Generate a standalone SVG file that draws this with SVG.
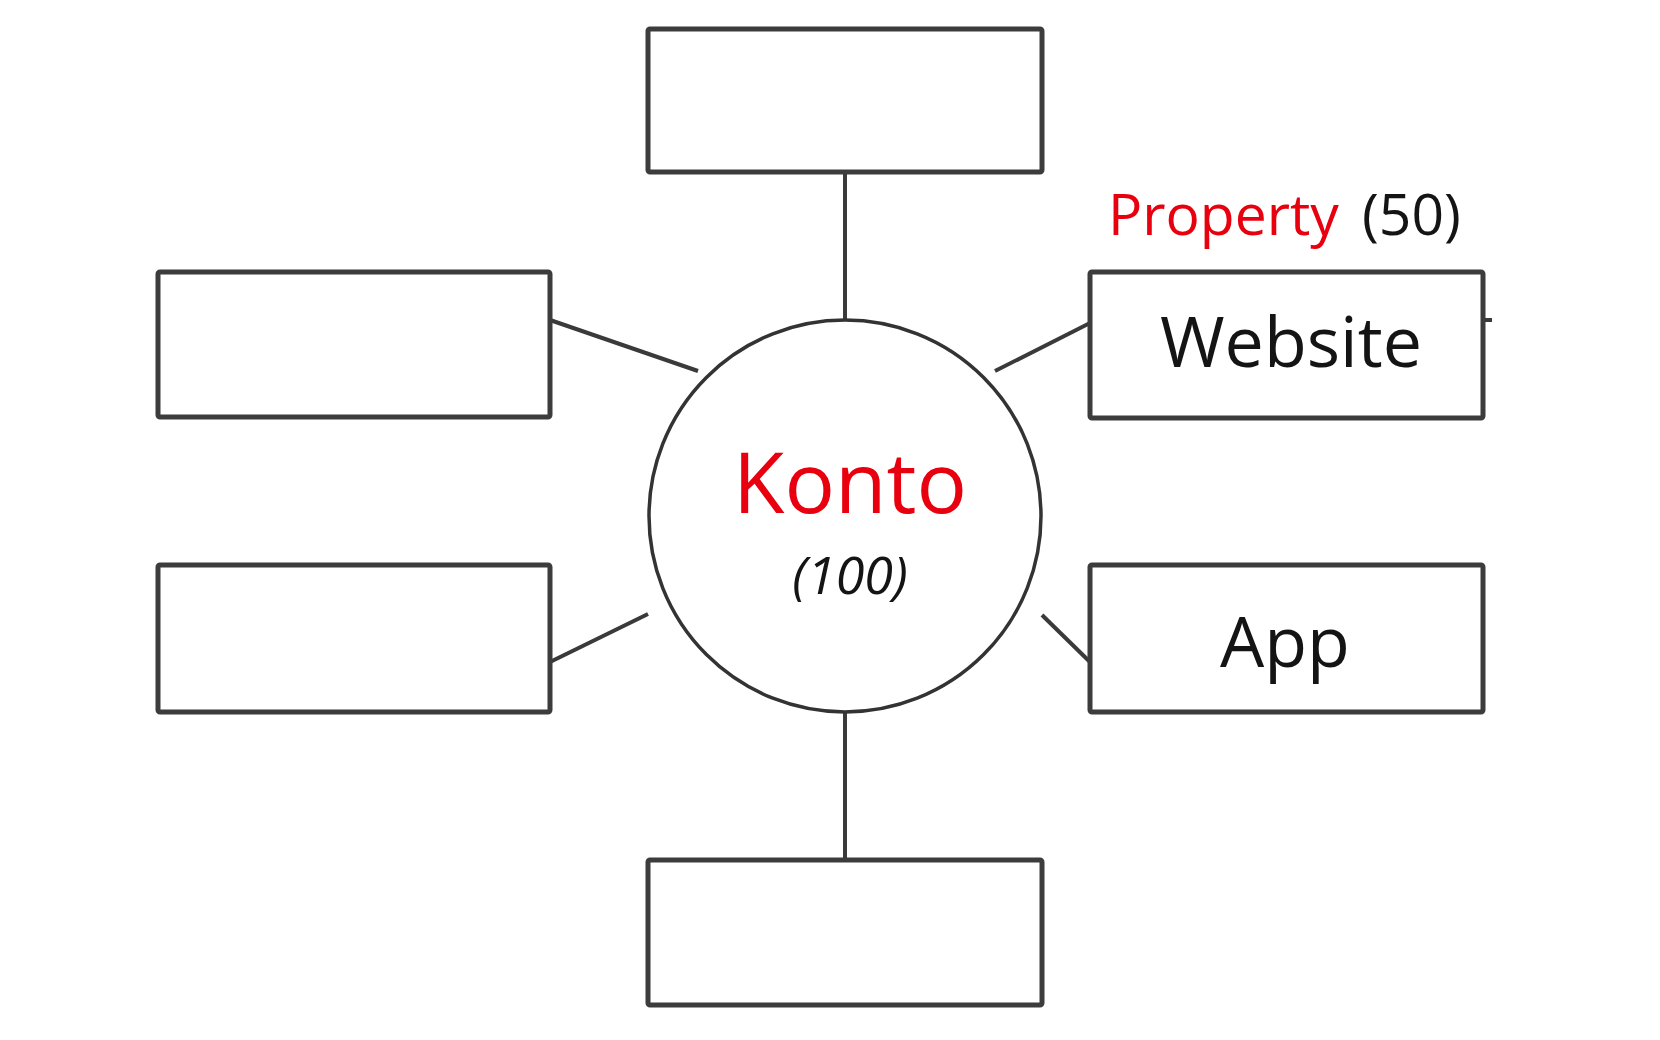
<svg xmlns="http://www.w3.org/2000/svg" width="1660" height="1040" viewBox="0 0 1660 1040">
<style>
.box{fill:#ffffff;stroke:#3c3c3c;stroke-width:5}
.conn{stroke:#3a3a3a;stroke-width:4;fill:none}
.t{font-family:"Open Sans","Noto Sans","Liberation Sans",sans-serif;fill:#141414}
.red{fill:#e8000e}
</style>
<rect width="1660" height="1040" fill="#ffffff"/>
<g id="connectors">
<line class="conn" x1="845" y1="172" x2="845" y2="320"/>
<line class="conn" x1="845" y1="712" x2="845" y2="860"/>
<line class="conn" x1="550" y1="320" x2="698" y2="371"/>
<line class="conn" x1="550" y1="662" x2="648" y2="614"/>
<line class="conn" x1="995" y1="371" x2="1090" y2="323"/>
<line class="conn" x1="1042" y1="615" x2="1090" y2="662"/>
<line class="conn" x1="1483" y1="320" x2="1492" y2="320" stroke-width="2"/>
</g>
<g id="node-top"><rect class="box" x="648" y="29" width="394" height="143" rx="2"/></g>
<g id="node-left-top"><rect class="box" x="158" y="272" width="392" height="145" rx="2"/></g>
<g id="node-left-bottom"><rect class="box" x="158" y="565" width="392" height="147" rx="2"/></g>
<g id="node-bottom"><rect class="box" x="648" y="860" width="394" height="145" rx="2"/></g>
<g id="node-website">
<rect class="box" x="1090" y="272" width="393" height="146" rx="2"/>
<text class="t" x="1291" y="367" font-size="70" text-anchor="middle">Website</text>
</g>
<g id="node-app">
<rect class="box" x="1090" y="565" width="393" height="147" rx="2"/>
<text class="t" x="1285" y="667" font-size="70" text-anchor="middle">App</text>
</g>
<g id="label-property">
<text class="t" x="1108" y="235" font-size="57"><tspan class="red">Property</tspan><tspan x="1362">(50)</tspan></text>
</g>
<g id="node-konto">
<circle cx="845" cy="516" r="196" fill="#ffffff" stroke="#333333" stroke-width="3.5"/>
<text class="t red" x="850" y="513" font-size="84" text-anchor="middle">Konto</text>
<text class="t" x="850" y="594" font-size="52" text-anchor="middle" font-style="italic">(100)</text>
</g>
</svg>
